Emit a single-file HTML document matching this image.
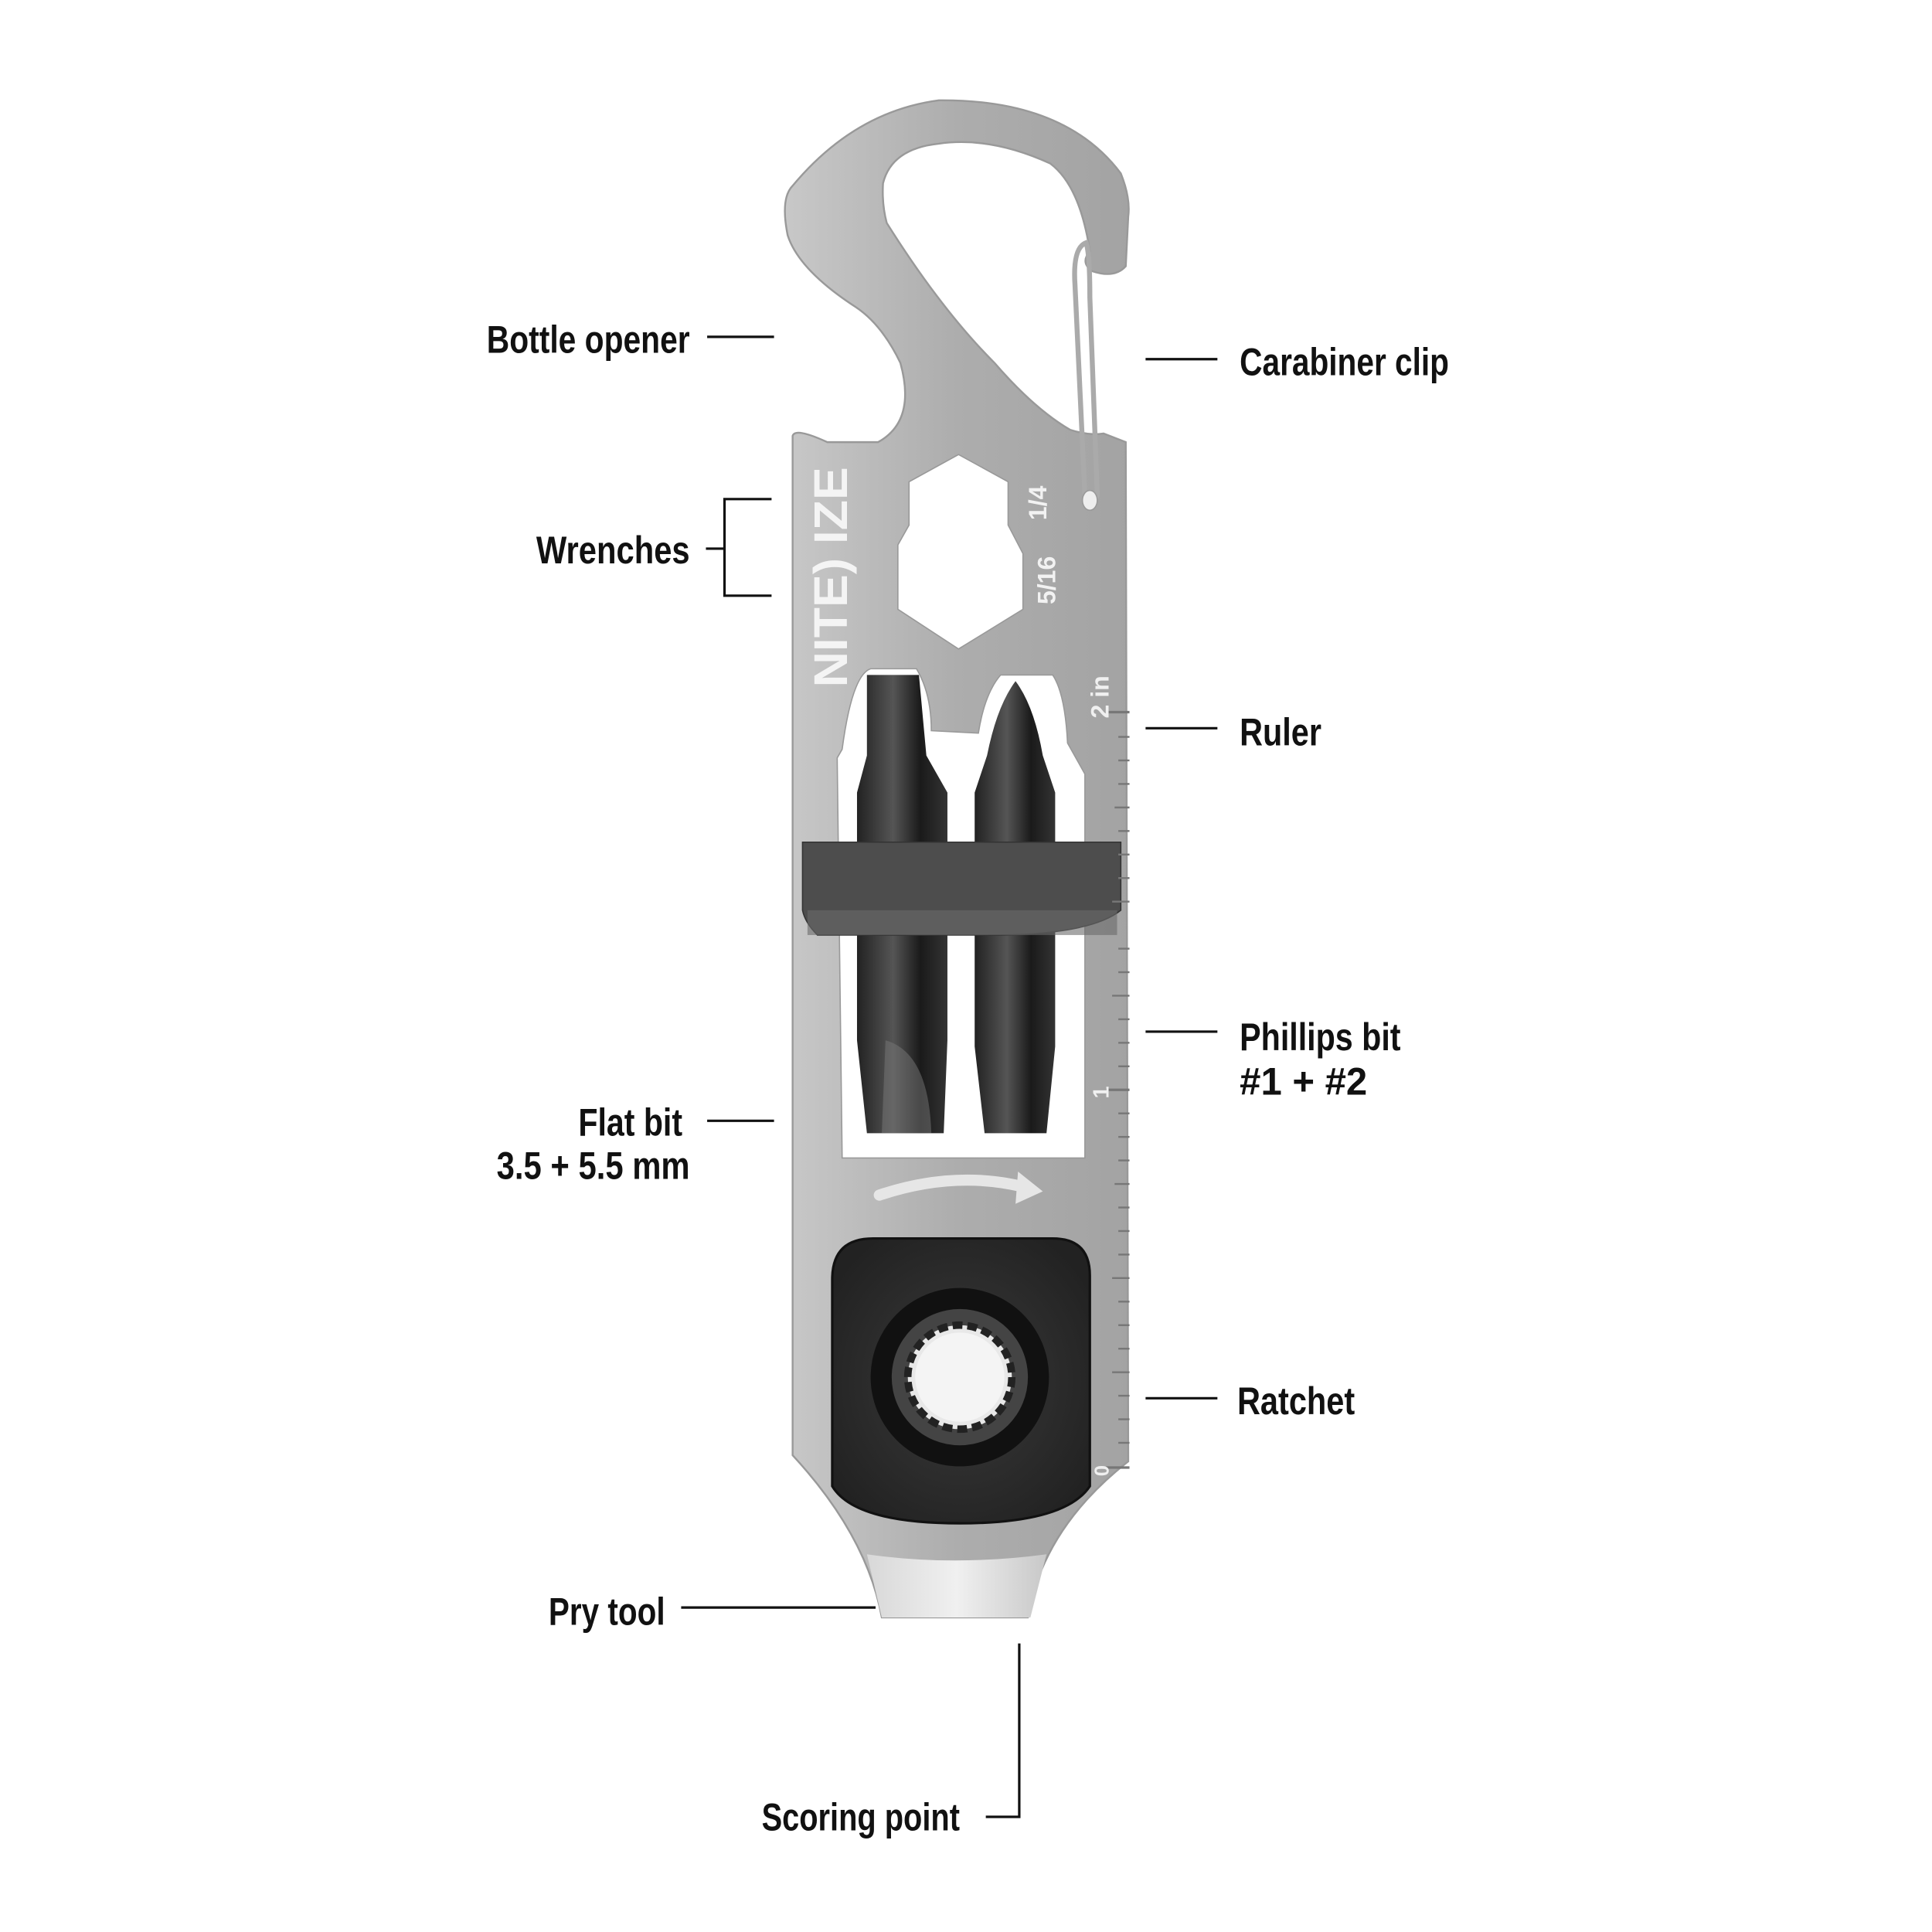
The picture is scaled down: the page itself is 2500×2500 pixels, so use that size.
<!DOCTYPE html>
<html><head><meta charset="utf-8"><style>
html,body{margin:0;padding:0;background:#fff;}
svg{display:block;}
text{font-family:"Liberation Sans Narrow","Liberation Sans",sans-serif;font-weight:bold;fill:#111;}
</style></head><body>
<svg width="2500" height="2500" viewBox="0 0 1560 1560" xmlns="http://www.w3.org/2000/svg">
<defs>
<linearGradient id="steel" x1="0" y1="0" x2="1" y2="0">
<stop offset="0" stop-color="#c8c8c8"/><stop offset="0.5" stop-color="#adadad"/><stop offset="1" stop-color="#a3a3a3"/>
</linearGradient>
<linearGradient id="pry" x1="0" y1="0" x2="1" y2="0">
<stop offset="0" stop-color="#d8d8d8"/><stop offset="0.5" stop-color="#f0f0f0"/><stop offset="1" stop-color="#c8c8c8"/>
</linearGradient>
<linearGradient id="bit" x1="0" y1="0" x2="1" y2="0">
<stop offset="0" stop-color="#222"/><stop offset="0.4" stop-color="#555"/><stop offset="0.7" stop-color="#1a1a1a"/><stop offset="1" stop-color="#333"/>
</linearGradient>
<radialGradient id="rat" cx="0.5" cy="0.5" r="0.6">
<stop offset="0" stop-color="#3a3a3a"/><stop offset="1" stop-color="#222"/>
</radialGradient>
</defs>

<path fill="url(#steel)" stroke="#999" stroke-width="1.5" d="M 640,1175 L 640,352 Q 642,345 668,357 L 709,357 Q 740,340 727,293 Q 712,262 691,248 Q 645,218 636,190 Q 630,160 640,150 Q 690,90 758,81 Q 860,80 905,140 Q 913,160 911,175 L 909,215 Q 900,225 882,219 Q 872,212 880,203 Q 872,150 848,132 Q 800,110 758,116 Q 720,120 713,148 Q 712,165 716,180 Q 760,250 803,293 Q 835,330 864,347 Q 880,352 891,350 L 909,357 L 911,1180 Q 860,1220 840,1270 L 830,1306 L 712,1306 Q 700,1240 640,1175 Z"/>
<path fill="url(#pry)" d="M 700,1255 Q 770,1265 845,1255 L 832,1306 L 712,1306 Z"/>
<polygon fill="#fff" stroke="#999" points="774,367 814,389 814,424 826,447 826,492 774,524 725,492 725,440 734,424 734,389"/>
<text transform="translate(684,555) rotate(-90)" font-size="38" style="fill:#f4f4f4" textLength="178" lengthAdjust="spacingAndGlyphs">NITE) IZE</text>
<text transform="translate(845,420) rotate(-90)" font-size="20" style="fill:#f2f2f2">1/4</text>
<text transform="translate(852,488) rotate(-90)" font-size="20" style="fill:#f2f2f2">5/16</text>
<path d="M 877,196 Q 866,200 868,230 L 876,400 Q 880,412 886,400 L 880,240 Q 880,205 877,196 Z" fill="none" stroke="#aaa" stroke-width="4"/>
<ellipse cx="880" cy="404" rx="6" ry="8" fill="#eee" stroke="#999"/>

<path fill="#fff" stroke="#999" d="M 680,605 Q 688,545 703,540 L 740,540 Q 752,560 752,590 L 790,592 Q 795,560 808,545 L 850,545 Q 860,560 862,600 L 876,625 L 876,935 L 680,935 L 676,612 Z"/>
<path fill="url(#bit)" d="M 700,545 L 742,545 L 748,610 L 765,640 L 765,840 L 762,915 L 700,915 L 692,840 L 692,640 L 700,610 Z"/>
<path fill="url(#bit)" d="M 820,550 Q 835,570 842,610 L 852,640 L 852,845 L 845,915 L 795,915 L 787,845 L 787,640 L 797,610 Q 805,570 820,550 Z"/>
<path fill="#777" opacity="0.5" d="M 715,840 Q 750,850 752,915 L 712,915 Z"/>
<path fill="#4d4d4d" stroke="#333" d="M 648,680 L 905,680 L 905,735 Q 880,755 800,755 L 660,755 Q 650,745 648,735 Z"/>
<rect x="652" y="735" width="250" height="20" fill="#6a6a6a" opacity="0.6"/>

<g stroke="#777" stroke-width="2">
<line x1="912" y1="575" x2="895" y2="575"/>
<line x1="912" y1="880" x2="893" y2="880"/>
<line x1="912" y1="1185" x2="893" y2="1185"/>
<g stroke-width="1.5">
<line x1="912" y1="595" x2="903" y2="595"/><line x1="912" y1="614" x2="903" y2="614"/><line x1="912" y1="633" x2="903" y2="633"/><line x1="912" y1="652" x2="900" y2="652"/><line x1="912" y1="671" x2="903" y2="671"/><line x1="912" y1="690" x2="903" y2="690"/><line x1="912" y1="709" x2="903" y2="709"/><line x1="912" y1="728" x2="898" y2="728"/><line x1="912" y1="766" x2="903" y2="766"/><line x1="912" y1="785" x2="903" y2="785"/><line x1="912" y1="804" x2="898" y2="804"/><line x1="912" y1="823" x2="903" y2="823"/><line x1="912" y1="842" x2="903" y2="842"/><line x1="912" y1="861" x2="903" y2="861"/>
<line x1="912" y1="899" x2="903" y2="899"/><line x1="912" y1="918" x2="903" y2="918"/><line x1="912" y1="937" x2="903" y2="937"/><line x1="912" y1="956" x2="900" y2="956"/><line x1="912" y1="975" x2="903" y2="975"/><line x1="912" y1="994" x2="903" y2="994"/><line x1="912" y1="1013" x2="903" y2="1013"/><line x1="912" y1="1032" x2="898" y2="1032"/><line x1="912" y1="1051" x2="903" y2="1051"/><line x1="912" y1="1070" x2="903" y2="1070"/><line x1="912" y1="1089" x2="903" y2="1089"/><line x1="912" y1="1108" x2="898" y2="1108"/><line x1="912" y1="1127" x2="903" y2="1127"/><line x1="912" y1="1146" x2="903" y2="1146"/><line x1="912" y1="1165" x2="903" y2="1165"/>
</g></g>
<text transform="translate(895,580) rotate(-90)" font-size="20" style="fill:#f0f0f0">2 in</text>
<text transform="translate(895,887) rotate(-90)" font-size="18" style="fill:#f0f0f0">1</text>
<text transform="translate(895,1192) rotate(-90)" font-size="16" style="fill:#f0f0f0">0</text>

<path d="M 710,965 Q 770,945 825,958" fill="none" stroke="#e6e6e6" stroke-width="9" stroke-linecap="round"/>
<polygon points="822,946 842,962 820,972" fill="#e6e6e6"/>

<path fill="url(#rat)" stroke="#111" stroke-width="2" d="M 705,1000 L 850,1000 Q 880,1000 880,1030 L 880,1200 Q 860,1230 775,1230 Q 690,1230 672,1200 L 672,1033 Q 672,1000 705,1000 Z"/>
<circle cx="775" cy="1112" r="72" fill="#111"/>
<circle cx="775" cy="1112" r="55" fill="#444"/>
<circle cx="775" cy="1112" r="42" fill="#e8e8e8" stroke="#222" stroke-width="6" stroke-dasharray="8 4"/>
<circle cx="775" cy="1112" r="36" fill="#f4f4f4"/>

<g stroke="#111" stroke-width="2" fill="none">
<line x1="571" y1="272" x2="625" y2="272"/>
<line x1="925" y1="290" x2="983" y2="290"/>
<path d="M 570,443 L 585,443 M 623,403 L 585,403 L 585,481 L 623,481"/>
<line x1="925" y1="588" x2="983" y2="588"/>
<line x1="925" y1="833" x2="983" y2="833"/>
<line x1="571" y1="905" x2="625" y2="905"/>
<line x1="925" y1="1129" x2="983" y2="1129"/>
<line x1="550" y1="1298" x2="707" y2="1298"/>
<path d="M 796,1467 L 823,1467 L 823,1327"/>
</g>

<g font-size="31">
<text x="393" y="285" textLength="164" lengthAdjust="spacingAndGlyphs">Bottle opener</text>
<text x="1001" y="303" textLength="169" lengthAdjust="spacingAndGlyphs">Carabiner clip</text>
<text x="433" y="455" textLength="124" lengthAdjust="spacingAndGlyphs">Wrenches</text>
<text x="1001" y="602" textLength="66" lengthAdjust="spacingAndGlyphs">Ruler</text>
<text x="1001" y="848" textLength="130" lengthAdjust="spacingAndGlyphs">Phillips bit</text>
<text x="1001" y="884" textLength="103" lengthAdjust="spacingAndGlyphs">#1 + #2</text>
<text x="467" y="917" textLength="84" lengthAdjust="spacingAndGlyphs">Flat bit</text>
<text x="401" y="952" textLength="156" lengthAdjust="spacingAndGlyphs">3.5 + 5.5 mm</text>
<text x="999" y="1142" textLength="95" lengthAdjust="spacingAndGlyphs">Ratchet</text>
<text x="443" y="1312" textLength="94" lengthAdjust="spacingAndGlyphs">Pry tool</text>
<text x="615" y="1478" textLength="160" lengthAdjust="spacingAndGlyphs">Scoring point</text>
</g>
</svg>
</body></html>
